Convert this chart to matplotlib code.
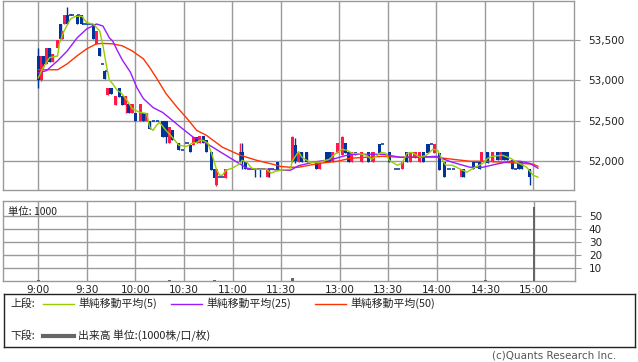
import matplotlib
matplotlib.use("Agg")
import matplotlib.pyplot as plt
from matplotlib.ticker import FuncFormatter

plt.rcParams['font.family'] = ['DejaVu Sans', 'Noto Sans CJK JP']
JP = ['Noto Sans CJK JP', 'DejaVu Sans']

# ---------------- data ----------------
candle_times = ["9:00","9:02","9:03","9:05","9:07","9:09","9:12","9:14","9:15","9:16","9:18",
    "9:20","9:21","9:24","9:25","9:27","9:28","9:30","9:32","9:34","9:36","9:38","9:40","9:41","9:42",
    "9:43","9:45","9:48","9:50","9:52","9:54","9:56","9:58","10:00","10:03","10:05","10:07","10:09",
    "10:11","10:14","10:17","10:19","10:21","10:23","10:27","10:29","10:32","10:34","10:36","10:38",
    "10:40","10:42","10:44","10:47","10:49","10:50","10:52","10:54","10:56","11:05","11:06","11:08",
    "11:10","11:12","11:14","11:16","11:17","11:19","11:22","11:23","11:25","11:28",
    "12:31","12:33","12:35","12:37","12:40","12:46","12:48","12:52","12:54","12:56","12:59","13:02",
    "13:04","13:06","13:08","13:10","13:14","13:18","13:21","13:25","13:27","13:31","13:35","13:37",
    "13:39","13:42","13:44","13:47","13:50","13:52","13:55","13:57","13:59","14:02","14:05","14:08",
    "14:11","14:16","14:17","14:23","14:25","14:27","14:28","14:32","14:35","14:38","14:40","14:42",
    "14:44","14:47","14:49","14:51","14:53","14:58"]
opens = [53300,53000,53300,53200,53400,53220,53400,53700,53510,53700,53810,
    53810,53810,53810,53810,53810,53700,53700,53700,53700,53450,53400,53200,53110,53110,
    52820,52910,52700,52900,52810,52690,52710,52590,52600,52500,52600,52500,52500,
    52500,52500,52500,52500,52220,52380,52230,52140,52220,52200,52200,52300,
    52220,52310,52260,52110,51910,51710,51800,51800,51790,51990,52110,51990,
    51910,51910,51910,51910,51910,51910,51810,51910,51910,51990,
    51990,52200,51990,52110,52110,51990,51900,52110,52110,51990,52100,52080,
    52220,52110,51990,52110,51990,52110,51990,52210,52210,52110,51900,51900,
    51900,52110,51990,52040,51990,52110,52210,52210,52100,52100,51990,51900,
    51900,51800,51900,51990,51990,51990,51990,52110,51990,52110,52010,52110,
    52110,52010,51900,51990,51990,51900]
highs = [53400,53300,53300,53400,53400,53330,53500,53700,53610,53810,53900,
    53810,53810,53810,53810,53810,53700,53700,53700,53700,53610,53400,53200,53110,53110,
    52910,52910,52810,52900,52810,52810,52710,52710,52600,52710,52600,52600,52500,
    52500,52500,52500,52500,52420,52380,52230,52140,52220,52200,52300,52300,
    52310,52310,52260,52110,51910,51910,51800,51800,51900,52220,52220,51990,
    51910,51910,51910,51910,51910,51910,51900,51910,51910,51990,
    52310,52290,52110,52110,52110,51990,51990,52110,52110,52110,52220,52310,
    52220,52110,52110,52110,52110,52110,52110,52210,52210,52110,51900,51900,
    51990,52110,52110,52110,52110,52110,52210,52210,52210,52100,51990,51900,
    51900,51900,51900,51990,51990,51990,52110,52110,52110,52110,52110,52110,
    52110,52010,51900,51990,51990,51900]
lows = [52910,52990,53150,53200,53220,53220,53400,53510,53510,53700,53700,
    53810,53810,53700,53810,53700,53700,53700,53700,53510,53450,53300,53200,53010,53110,
    52820,52830,52690,52790,52690,52600,52600,52590,52500,52500,52500,52500,52400,
    52500,52500,52300,52220,52220,52260,52140,52140,52220,52110,52200,52220,
    52220,52220,52110,51890,51790,51690,51800,51800,51790,51990,51900,51900,
    51910,51910,51800,51910,51800,51910,51810,51800,51910,51890,
    51990,51980,51990,51990,51990,51900,51900,51990,51990,51990,52100,52080,
    52100,51990,51990,52080,51990,51990,51990,52100,52210,51990,51900,51900,
    51900,51990,51990,52040,51990,51990,52100,52210,52100,51890,51800,51900,
    51900,51800,51800,51900,51990,51900,51990,51980,51990,52010,52010,52010,
    52020,51900,51900,51900,51900,51710]
closes = [53000,53300,53200,53400,53220,53330,53500,53510,53610,53810,53700,
    53810,53810,53700,53810,53700,53700,53700,53700,53510,53610,53300,53200,53010,53110,
    52910,52830,52810,52790,52690,52810,52600,52710,52500,52710,52500,52600,52400,
    52500,52500,52300,52300,52420,52260,52140,52140,52220,52110,52300,52220,
    52310,52220,52110,51890,51790,51910,51800,51800,51900,52110,51990,51900,
    51910,51910,51910,51910,51910,51910,51900,51910,51910,51890,
    52300,52000,52110,51990,51990,51900,51990,51990,51990,52110,52220,52300,
    52100,51990,52110,52080,52110,51990,52110,52100,52210,51990,51900,51900,
    51990,51990,52110,52110,52110,51990,52100,52210,52210,51890,51800,51900,
    51900,51900,51800,51900,51990,51900,52110,51980,52110,52010,52110,52010,
    52020,51900,51900,51900,51900,51810]

sma5_times = ["9:00","9:03","9:07","9:12","9:13","9:16","9:20","9:23","9:27","9:30","9:34","9:38",
    "9:40","9:42","9:44","9:46","9:49","9:51","9:55","9:58","10:03","10:07","10:09","10:11","10:13",
    "10:15","10:19","10:23","10:27","10:32","10:35","10:38","10:40","10:42","10:45","10:47","10:50",
    "10:52","10:54","10:56","11:00","11:05","11:06","11:09","11:12","11:15","11:21","11:24","11:27",
    "11:30","12:30","12:31","12:35","12:37","12:42","12:48","12:54","12:58","13:02","13:05","13:08",
    "13:11","13:17","13:20","13:23","13:26","13:29","13:31","13:36","13:39","13:42","13:45","13:48",
    "13:50","13:54","13:58","14:01","14:04","14:06","14:10","14:15","14:19","14:23","14:29","14:32",
    "14:35","14:41","14:46","14:50","14:56","15:00","15:03"]
sma5_vals = [53030,53155,53280,53300,53450,53610,53757,53790,53790,53710,53695,53610,
    53430,53200,53000,52958,52872,52850,52749,52651,52602,52590,52418,52381,52442,
    52479,52381,52295,52197,52184,52221,52233,52258,52258,52221,52110,51914,
    51828,51828,51889,51914,51975,52012,51988,51914,51902,51902,51853,51877,
    51889,51902,52000,52120,52049,51988,51988,52025,52098,52147,52135,52098,
    52098,52074,52025,52061,52110,52098,52012,51951,51975,52098,52110,52074,
    52049,52074,52147,52135,52012,51951,51951,51902,51865,51914,51975,52037,
    52061,52074,52037,51988,51926,51828,51803]

sma25_times = ["9:00","9:05","9:12","9:18","9:24","9:30","9:36","9:40","9:44","9:46","9:49","9:52",
    "9:57","10:01","10:05","10:11","10:17","10:23","10:29","10:36","10:40","10:46","10:54","11:03",
    "11:09","11:15","11:23","11:30","12:30","12:35","12:44","12:56","13:07","13:17","13:27","13:38",
    "13:50","14:00","14:10","14:21","14:29","14:37","14:46","14:52","14:58","15:03"]
sma25_vals = [53093,53118,53241,53364,53523,53634,53695,53670,53523,53486,53364,53250,
    53100,52909,52774,52663,52602,52504,52405,52295,52270,52197,52098,51988,
    51914,51902,51902,51889,51889,51945,51988,52025,52086,52086,52086,52049,
    52049,52061,51988,51926,51926,51963,52000,52000,51975,51914]

sma50_times = ["9:00","9:12","9:18","9:24","9:30","9:36","9:40","9:46","9:52","9:58","10:05","10:09",
    "10:13","10:19","10:26","10:32","10:38","10:44","10:54","11:05","11:15","11:25","11:30","12:30",
    "12:35","12:48","12:59","13:07","13:17","13:27","13:38","13:50","14:00","14:10","14:21","14:31",
    "14:41","14:52","15:00","15:03"]
sma50_vals = [53130,53130,53204,53302,53388,53450,53455,53450,53425,53364,53265,53155,
    53032,52835,52663,52528,52381,52320,52172,52074,52012,51963,51935,51926,
    51926,51975,52000,52037,52049,52061,52049,52055,52049,52025,52000,52000,
    51988,51975,51963,51939]

vol_times = ["9:00","10:21","10:49","12:31","14:30","15:00"]
vol_vals = [0.8, 0.6, 0.6, 2.5, 0.5, 57]

tick_labels = ["9:00","9:30","10:00","10:30","11:00","11:30","13:00","13:30","14:00","14:30","15:00"]
price_ticks = [52000, 52500, 53000, 53500]
vol_ticks = [10, 20, 30, 40, 50]

# ---------------- helpers ----------------
def slot(t):
    h, m = map(int, t.split(':'))
    tot = h * 60 + m
    if tot <= 11 * 60 + 30:
        return tot - 540
    return tot - (12 * 60 + 30) + 156

RED = '#ff1a4b'
BLUE = '#00339a'
GRID = '#9a9a9a'
W, H = 638, 362

fig = plt.figure(figsize=(W / 100, H / 100), dpi=100)

def px_axes(x0, y0, x1, y1):
    return fig.add_axes([x0 / W, (H - y1) / H, (x1 - x0) / W, (y1 - y0) / H])

XL = (-21.6, 331.3)
xt = [slot(t) for t in tick_labels]

# ---------------- main price panel ----------------
ax = px_axes(3.3, 0.5, 574, 190)
ax.set_xlim(*XL)
ax.set_ylim(51645, 53985)
for s in ax.spines.values():
    s.set_color(GRID)
    s.set_linewidth(1)
ax.set_xticks(xt)
ax.set_xticklabels([])
ax.tick_params(axis='x', length=0)
ax.set_yticks(price_ticks)
ax.yaxis.tick_right()
ax.yaxis.set_major_formatter(FuncFormatter(lambda v, p: f"{int(v):,}"))
ax.tick_params(axis='y', length=4, color=GRID, labelsize=7.5, pad=6, labelcolor='#222222')
ax.grid(True, color=GRID, linewidth=1)
ax.set_axisbelow(True)

cw = 1.9
for t, o, h, l, c in zip(candle_times, opens, highs, lows, closes):
    x = slot(t)
    col = RED if c > o else BLUE
    ax.vlines(x, l, h, color=col, linewidth=1.0, zorder=3)
    if c == o:
        ax.hlines(o, x - cw / 2, x + cw / 2, color=col, linewidth=1.1, zorder=3)
    else:
        ax.bar(x, abs(c - o), bottom=min(o, c), width=cw, color=col, linewidth=0, zorder=3)

ax.plot([slot(t) for t in sma50_times], sma50_vals, color='#ff3300', linewidth=1.0, zorder=4)
ax.plot([slot(t) for t in sma25_times], sma25_vals, color='#9a1bff', linewidth=1.0, zorder=5)
ax.plot([slot(t) for t in sma5_times], sma5_vals, color='#99cc00', linewidth=1.0, zorder=6)

# ---------------- volume panel ----------------
av = px_axes(3.3, 201, 575, 281)
av.set_xlim(*XL)
av.set_ylim(0, 61.5)
for s in av.spines.values():
    s.set_color(GRID)
    s.set_linewidth(1)
av.set_xticks(xt)
av.set_xticklabels(tick_labels)
av.tick_params(axis='x', length=0, labelsize=7.5, pad=3, labelcolor='#222222')
av.set_yticks(vol_ticks)
av.yaxis.tick_right()
av.tick_params(axis='y', length=4, color=GRID, labelsize=7.5, pad=6, labelcolor='#222222')
av.grid(True, color=GRID, linewidth=1)
av.set_axisbelow(True)
av.bar([slot(t) for t in vol_times], vol_vals, width=1.8, color='#666666', zorder=3)
av.text(0.008, 0.93, "単位: 1000", transform=av.transAxes, ha='left', va='top',
        fontsize=7.5, family=JP, color='#222222')

# ---------------- legend box ----------------
al = px_axes(4, 294, 635, 347)
al.set_xlim(0, 631)
al.set_ylim(53, 0)
al.set_xticks([])
al.set_yticks([])
for s in al.spines.values():
    s.set_color('#222222')
    s.set_linewidth(1)
ty1, ty2 = 9.5, 42
al.text(6, ty1, "上段:", fontsize=7.8, family=JP, va='center', color='#222222')
al.text(6, ty2, "下段:", fontsize=7.8, family=JP, va='center', color='#222222')
leg = [(39, '#99cc00', "単純移動平均(5)"), (167, '#9a1bff', "単純移動平均(25)"),
       (311, '#ff3300', "単純移動平均(50)")]
for x0, col, lab in leg:
    al.plot([x0, x0 + 31], [ty1, ty1], color=col, linewidth=1)
    al.text(x0 + 35, ty1, lab, fontsize=7.8, family=JP, va='center', color='#222222')
al.plot([39, 70], [ty2, ty2], color='#666666', linewidth=3)
al.text(74, ty2, "出来高 単位:(1000株/口/枚)", fontsize=7.8, family=JP, va='center', color='#222222')

fig.text(616 / W, (H - 355) / H, "(c)Quants Research Inc.", ha='right', va='center',
         fontsize=7.5, color='#555555')

fig.savefig("out.png", dpi=100)
